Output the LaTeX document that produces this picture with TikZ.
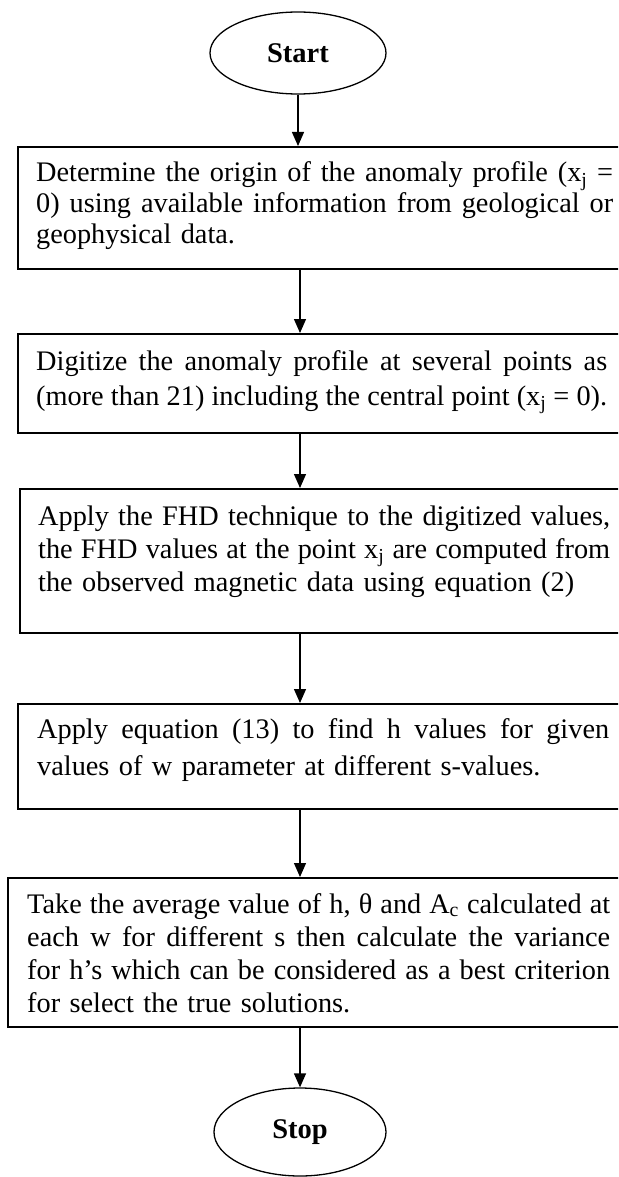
\documentclass[tikz,border=0pt]{standalone}
\usepackage{fontspec}
\setmainfont{Liberation Serif}
\usetikzlibrary{arrows.meta,shapes.geometric}
\newcommand\jline[2]{\leavevmode\hbox to #1{\spaceskip=\fontdimen2\font plus 1fil minus 0.6\fontdimen2\font\relax #2}}
\begin{document}
\begin{tikzpicture}[x=1pt,y=-1pt,
  term/.style={ellipse,draw,line width=1.3pt,inner sep=0pt,font=\fontsize{28.5}{30}\selectfont\bfseries},
  procbox/.style={rectangle,draw,line width=1.6pt,inner sep=0pt,anchor=north west},
  txt/.style={anchor=base west,inner sep=0pt,align=left,font=\fontsize{28.3}{#1}\selectfont},
  arr/.style={line width=1.3pt,-{Triangle[width=12pt,length=14pt]}}]
\clip (0,0) rectangle (618,1177);

\node[term,minimum width=176pt,minimum height=82pt] (start) at (298,53) {Start};

\node[procbox,minimum width=610pt,minimum height=122pt] (b1) at (17,146) {};
\node[txt=31,text width=577pt] (t1) at (36,182)
 {\jline{577pt}{Determine the origin of the anomaly profile (x\textsubscript{j} =}\\
  \jline{577pt}{0) using available information from geological or}\\
  geophysical data.};

\node[procbox,minimum width=610pt,minimum height=99pt] (b2) at (17,333) {};
\node[txt=35,text width=571pt] (t2) at (36,370)
 {\jline{571pt}{Digitize the anomaly profile at several points as}\\
  \jline{571pt}{(more than 21) including the central point (x\textsubscript{j} = 0).}};

\node[procbox,minimum width=610pt,minimum height=144pt] (b3) at (19,488) {};
\node[txt=33,text width=572pt] (t3) at (38,525)
 {\jline{572pt}{Apply the FHD technique to the digitized values,}\\
  \jline{572pt}{the FHD values at the point x\textsubscript{j} are computed from}\\
  the observed magnetic data using equation (2)};

\node[procbox,minimum width=610pt,minimum height=105pt] (b4) at (17,703) {};
\node[txt=37,text width=572pt] (t4) at (37,738)
 {\jline{572pt}{Apply equation (13) to find h values for given}\\
  values of w parameter at different s-values.};

\node[procbox,minimum width=620pt,minimum height=149pt] (b5) at (7,877) {};
\node[txt=33,text width=583pt] (t5) at (27,913)
 {\jline{583pt}{Take the average value of h, θ and A\textsubscript{c} calculated at}\\
  \jline{583pt}{each w for different s then calculate the variance}\\
  \jline{583pt}{for h’s which can be considered as a best criterion}\\
  for select the true solutions.};

\node[term,minimum width=172pt,minimum height=88pt] (stop) at (300,1132) {Stop};

\draw[arr] (start.south) -- (start.south |- b1.north);
\draw[arr] (b1.south -| stop.north) -- (b2.north -| stop.north);
\draw[arr] (b2.south -| stop.north) -- (b3.north -| stop.north);
\draw[arr] (b3.south -| stop.north) -- (b4.north -| stop.north);
\draw[arr] (b4.south -| stop.north) -- (b5.north -| stop.north);
\draw[arr] (b5.south -| stop.north) -- (stop.north);
\end{tikzpicture}
\end{document}
